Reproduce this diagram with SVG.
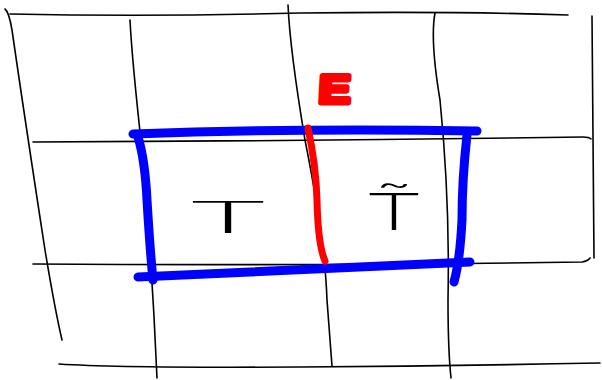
<svg xmlns="http://www.w3.org/2000/svg" width="602" height="380" viewBox="0 0 602 380">
<style>
.g{fill:none;stroke:#000;stroke-width:1.6;stroke-linecap:round}
.b{fill:none;stroke:#0000ff;stroke-width:9;stroke-linecap:round;stroke-linejoin:round}
.r{fill:none;stroke:#ff0000;stroke-width:7;stroke-linecap:round}
.t{font-family:"DejaVu Sans ExtraLight","Inter","DejaVu Sans",sans-serif;font-weight:200;fill:#000}
</style>
<rect width="602" height="380" fill="#fff"/>
<g id="grid">
<path class="g" d="M10 14 Q150 17 300 13 Q450 11 568 15"/>
<path class="g" d="M33 142 Q300 141 583 137 Q589 137 591 139"/>
<path class="g" d="M33 264 Q300 266 582 262 Q588 261 590 258"/>
<path class="g" d="M59 364 Q120 368 300 367 Q450 366 600 363"/>
<path class="g" d="M5 9 Q9 12 12 30 Q25 120 45 250 Q55 310 62 340"/>
<path class="g" d="M130 20 Q132 60 142 150 Q152 260 157 378"/>
<path class="g" d="M288 5 Q290 50 305 140 Q325 240 327 300 Q330 340 332 366"/>
<path class="g" d="M435 13 Q430 40 440 100 Q450 200 448 300 Q448 350 451 378"/>
<path class="g" d="M592 16 Q593 150 594 258"/>
</g>
<g id="box">
<path class="b" d="M133 134 Q300 128 477 131"/>
<path class="b" d="M138 137 Q145 160 147 200 Q150 250 153 280"/>
<path class="b" d="M138 277 Q300 270 470 262"/>
<path class="b" d="M467 135 Q462 180 462 220 Q460 260 454 282"/>
</g>
<g id="divider">
<path class="r" d="M308 128 Q316 165 317 200 Q318 245 325 261"/>
</g>
<g id="label-E">
<text x="0" y="0" text-anchor="middle" font-family="Liberation Sans,Arial,sans-serif" font-weight="bold" font-size="40" fill="#ff0000" stroke="#ff0000" stroke-width="5" stroke-linejoin="round" transform="translate(334 103) skewX(-3) scale(1.2 1)">E</text>
</g>
<g id="label-T1">
<text class="t" x="0" y="0" font-size="43" text-anchor="middle" transform="translate(228 233) scale(3.2 1)">T</text>
</g>
<g id="label-T2">
<text class="t" x="0" y="0" font-size="50" text-anchor="middle" transform="translate(394 230) scale(1.9 1)">T̃</text>
</g>
</svg>
